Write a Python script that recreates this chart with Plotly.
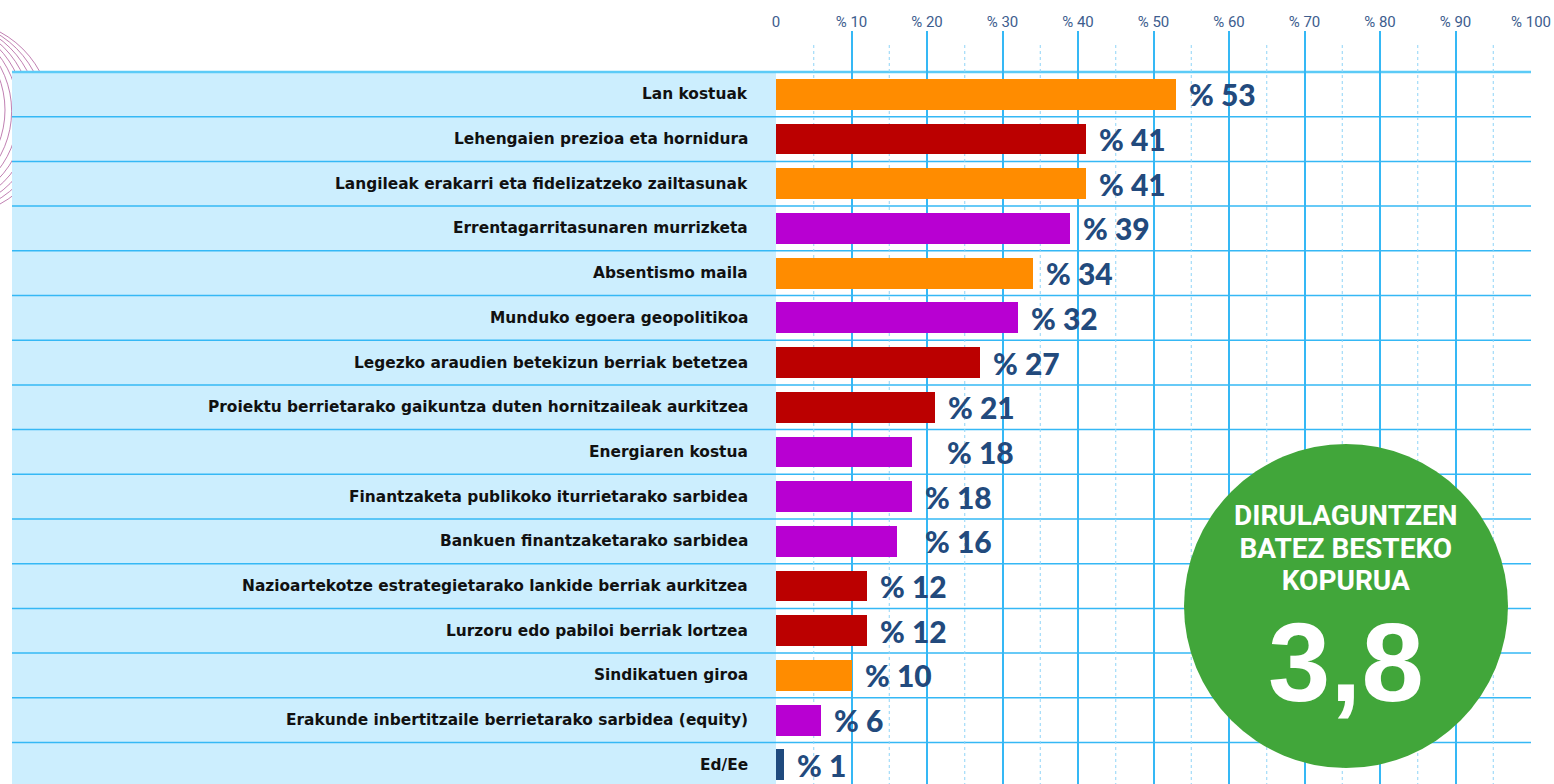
import plotly.graph_objects as go

# Survey items (top to bottom) and share of companies citing each one (%)
categories = [
    "Lan kostuak",
    "Lehengaien prezioa eta hornidura",
    "Langileak erakarri eta fidelizatzeko zailtasunak",
    "Errentagarritasunaren murrizketa",
    "Absentismo maila",
    "Munduko egoera geopolitikoa",
    "Legezko araudien betekizun berriak betetzea",
    "Proiektu berrietarako gaikuntza duten hornitzaileak aurkitzea",
    "Energiaren kostua",
    "Finantzaketa publikoko iturrietarako sarbidea",
    "Bankuen finantzaketarako sarbidea",
    "Nazioartekotze estrategietarako lankide berriak aurkitzea",
    "Lurzoru edo pabiloi berriak lortzea",
    "Sindikatuen giroa",
    "Erakunde inbertitzaile berrietarako sarbidea (equity)",
    "Ed/Ee",
]
values = [53, 41, 41, 39, 34, 32, 27, 21, 18, 18, 16, 12, 12, 10, 6, 1]
groups = ["labour", "cost", "labour", "market", "labour", "market", "cost", "cost",
          "market", "market", "market", "cost", "cost", "labour", "market", "nd"]

tick_values = list(range(0, 101, 10))
tick_labels = ["0"] + [f"% {v}" for v in tick_values[1:]]

average_label = ["DIRULAGUNTZEN", "BATEZ BESTEKO", "KOPURUA"]
average_value = "3,8"

# ---- styling ----
W, H = 1554, 784
GROUP_COLORS = {"labour": "#FF8C00", "cost": "#BB0000", "market": "#B800D2", "nd": "#1F4A7E"}
GRID = "#35B8F5"
GRID_MINOR = "#8FD4F7"
PANEL = "#CCEEFE"
VALUE_COLOR = "#224A7D"
ROW_H = 44.7       # px per row
TOP = 72           # px of first row boundary
PLOT_TOP = 31      # px where the plot area starts
X0_PX, X1_PX = 776, 1531


def ypx_to_row(p):
    return (p - TOP) / ROW_H - 0.5


def px(x):
    return x / W


def py(y):
    return 1 - y / H


n = len(categories)
rows = list(range(n))

fig = go.Figure()
fig.add_trace(go.Bar(
    x=values, y=rows, orientation="h",
    marker=dict(color=[GROUP_COLORS[g] for g in groups], line=dict(width=0)),
    width=0.69, hoverinfo="skip", showlegend=False,
))

shapes = []

# decorative concentric arcs at the top-left corner
for k in range(8):
    t = k / 7
    cx, cy, r = -87 + 41 * t, 110 + 8 * t, 92 + 5.5 * t
    shapes.append(dict(type="circle", xref="paper", yref="paper",
                       x0=px(cx - r), x1=px(cx + r), y0=py(cy + r), y1=py(cy - r),
                       line=dict(color="#B0609E", width=0.8), layer="below"))

# light blue panel behind the category names
shapes.append(dict(type="rect", xref="paper", yref="y",
                   x0=px(12), x1=px(X0_PX), y0=-0.5, y1=ypx_to_row(H) + 0.01,
                   fillcolor=PANEL, line=dict(width=0), layer="below"))

# dotted minor verticals
for v in range(5, 100, 10):
    shapes.append(dict(type="line", xref="x", yref="y", x0=v, x1=v,
                       y0=ypx_to_row(45), y1=ypx_to_row(H),
                       line=dict(color=GRID_MINOR, width=1, dash="dot"), layer="below"))

# row separators across panel and plot
for i in range(n + 1):
    shapes.append(dict(type="line", xref="paper", yref="y",
                       x0=px(12), x1=px(X1_PX), y0=i - 0.5, y1=i - 0.5,
                       line=dict(color="#5CCBF7" if i == 0 else GRID, width=2.5 if i == 0 else 1.5),
                       layer="below"))

# green badge
bcx, bcy, br = 1346, 606, 162
shapes.append(dict(type="circle", xref="paper", yref="paper",
                   x0=px(bcx - br), x1=px(bcx + br), y0=py(bcy + br), y1=py(bcy - br),
                   fillcolor="#41A63A", line=dict(width=0), layer="above"))

annotations = []
for i, (c, v) in enumerate(zip(categories, values)):
    annotations.append(dict(
        text=c, xref="paper", yref="y", x=px(750), y=i, xanchor="right", yanchor="middle",
        showarrow=False, font=dict(family="DejaVu Sans", size=15.4, color="#111111", weight="bold"),
    ))

nudge = {8: 22, 10: 15}
for i, v in enumerate(values):
    annotations.append(dict(
        text=f"% {v}", xref="x", yref="y", x=v, y=i, xanchor="left", yanchor="middle",
        xshift=11 + nudge.get(i, 0), showarrow=False,
        font=dict(family="Lato", size=30, color=VALUE_COLOR, weight=900),
    ))

# badge heading (tight line spacing via a smaller base size) and the big figure
annotations.append(dict(
    text="<br>".join(f"<span style='font-size:28px'>{s}</span>" for s in average_label),
    xref="paper", yref="paper", x=px(bcx), y=py(548),
    xanchor="center", yanchor="middle", showarrow=False, align="center",
    font=dict(family="Roboto", size=25, color="white", weight="bold"),
))
annotations.append(dict(
    text=average_value, xref="paper", yref="paper", x=px(bcx), y=py(662),
    xanchor="center", yanchor="middle", showarrow=False,
    font=dict(family="Liberation Sans", size=112, color="white", weight="bold"),
))

fig.update_layout(
    width=W, height=H, autosize=False,
    margin=dict(l=0, r=0, t=0, b=0, autoexpand=False),
    paper_bgcolor="white", plot_bgcolor="white",
    bargap=0,
    xaxis=dict(
        domain=[px(X0_PX), px(X1_PX)], range=[0, 100], side="top",
        tickvals=tick_values, ticktext=tick_labels, ticks="",
        showgrid=True, gridcolor=GRID, gridwidth=1.5,
        zeroline=False, showline=False, automargin=False,
        tickfont=dict(family="Roboto", size=15, color="#3D5D8E"),
    ),
    yaxis=dict(
        domain=[0, py(PLOT_TOP)],
        range=[ypx_to_row(H), ypx_to_row(PLOT_TOP)],
        showticklabels=False, showgrid=False, zeroline=False, ticks="",
        automargin=False,
    ),
    shapes=shapes,
    annotations=annotations,
)

fig.write_html("out.html", config={"responsive": False})
